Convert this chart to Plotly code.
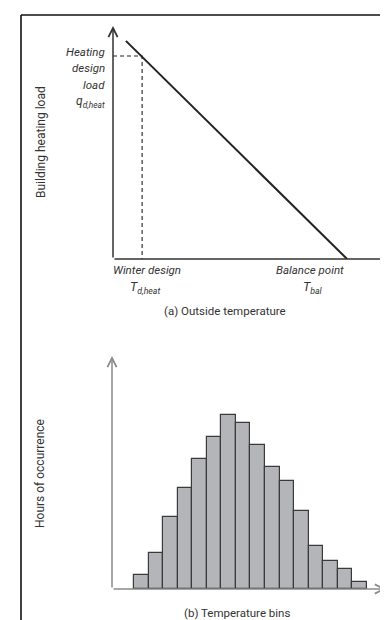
import plotly.graph_objects as go

# ---- data ----
# (a) heating load line vs outside temperature (arbitrary units)
load_temp = [4.6, 83.6]          # outside temperature
load_value = [93.6, 0.0]         # building heating load
design_temp = [10.4]             # winter design temperature T_d,heat
design_load = [87.1]             # heating design load q_d,heat

# (b) hours of occurrence per temperature bin (arbitrary units)
bins = list(range(1, 17))
hours = [14.5, 36.5, 72.5, 101, 130.5, 152.5, 174.5, 166.5,
         144.5, 122.5, 108.5, 78.5, 43, 28.5, 20.5, 7]

W, H = 388, 620
FONT = "Roboto, Liberation Sans, sans-serif"
TXT = "#333333"

def px(x):
    return x / W

def py(y):
    return 1 - y / H

fig = go.Figure()

# heating load line
fig.add_trace(go.Scatter(x=load_temp, y=load_value, mode="lines",
                         line=dict(color="#222222", width=2),
                         hoverinfo="skip", showlegend=False,
                         xaxis="x", yaxis="y"))
# dashed design guides
fig.add_trace(go.Scatter(x=[0, design_temp[0], design_temp[0]],
                         y=[design_load[0], design_load[0], 0],
                         mode="lines",
                         line=dict(color="#222222", width=1.1, dash="4px,3px"),
                         hoverinfo="skip", showlegend=False,
                         xaxis="x", yaxis="y"))

# histogram bars
fig.add_trace(go.Bar(x=bins, y=hours, width=1,
                     marker=dict(color="#b3b5b8",
                                 line=dict(color="#3a3a3a", width=1.2)),
                     hoverinfo="skip", showlegend=False,
                     xaxis="x2", yaxis="y2"))

ax_hidden = dict(showgrid=False, zeroline=False, showticklabels=False,
                 showline=False, ticks="", fixedrange=True)

fig.update_layout(
    width=W, height=H,
    margin=dict(l=0, r=0, t=0, b=0),
    paper_bgcolor="white", plot_bgcolor="white",
    xaxis=dict(domain=[px(105), px(385)], range=[0, 100], anchor="y", **ax_hidden),
    yaxis=dict(domain=[py(251), py(18)], range=[0, 100], anchor="x", **ax_hidden),
    xaxis2=dict(domain=[px(104), px(378)], range=[-1.01, 17.81], anchor="y2", **ax_hidden),
    yaxis2=dict(domain=[py(581), py(348)], range=[0, 233], anchor="x2", **ax_hidden),
    bargap=0,
)

# axis arrows
def arrow(xr, yr, x, y, ax, ay, color):
    fig.add_annotation(x=x, y=y, ax=ax, ay=ay, xref=xr, yref=yr,
                       axref=xr, ayref=yr, showarrow=True, text="",
                       arrowhead=5, arrowsize=1.2, arrowwidth=1.5,
                       arrowcolor=color, standoff=0, startstandoff=0)

arrow("x", "y", 100, 0, 0, 0, "#333333")
arrow("x", "y", 0, 100, 0, 0, "#333333")
arrow("x2", "y2", 17.81, 0, -1.01, 0, "#8a8a8a")
arrow("x2", "y2", -1.01, 233, -1.01, 0, "#8a8a8a")

# frame lines
fig.add_shape(type="line", xref="paper", yref="paper",
              x0=px(13), x1=px(13), y0=0, y1=py(7),
              line=dict(color="#111111", width=1.6))
fig.add_shape(type="line", xref="paper", yref="paper",
              x0=px(13), x1=1, y0=py(7), y1=py(7),
              line=dict(color="#111111", width=1.6))

def label(text, x, y, size=11.5, xanchor="center", italic=False, angle=0, color=TXT):
    if italic:
        text = "<i>" + text + "</i>"
    fig.add_annotation(text=text, x=px(x), y=py(y), xref="paper", yref="paper",
                       showarrow=False, xanchor=xanchor, yanchor="middle",
                       textangle=angle,
                       font=dict(family=FONT, size=size, color=color))

# top panel labels
label("Heating", 99, 44, xanchor="right", italic=True)
label("design", 99, 60.5, xanchor="right", italic=True)
label("load", 99, 77, xanchor="right", italic=True)
label("q<sub>d,heat</sub>", 99, 94, size=12, xanchor="right", italic=True)

label("Winter design", 103, 262, xanchor="left", italic=True)
label("T<sub>d,heat</sub>", 120, 279, size=12.5, xanchor="left", italic=True)
label("Balance point", 338, 262, xanchor="right", italic=True)
label("T<sub>bal</sub>", 293, 279, size=12.5, xanchor="left", italic=True)
label("(a) Outside temperature", 217, 303)
label("Building heating load", 33, 134, size=12, angle=-90)

# bottom panel labels
label("Hours of occurrence", 32, 466, size=12, angle=-90)
label("(b) Temperature bins", 229, 605)

fig.write_html("out.html")
